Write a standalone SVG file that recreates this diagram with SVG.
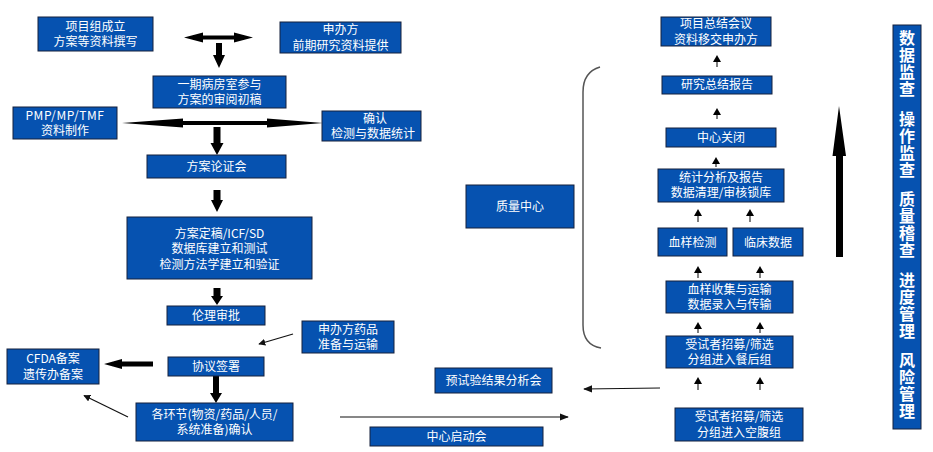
<svg xmlns="http://www.w3.org/2000/svg" width="933" height="452" viewBox="0 0 933 452">
<defs>
<style>
.b{fill:#0652B0;stroke:#14213d;stroke-width:1}
.t{font-family:"Noto Sans CJK SC","Microsoft YaHei",sans-serif;font-size:12px;fill:#ffffff;text-anchor:middle}
.v{font-family:"Noto Sans CJK SC",sans-serif;font-size:16px;font-weight:bold;fill:#ffffff;writing-mode:vertical-rl;letter-spacing:1px}
.big{fill:#000000}
.thin{stroke:#111111;stroke-width:1.2;fill:none}
.sm{stroke:#555555;stroke-width:1.5;fill:none}
.br{stroke:#555555;stroke-width:1.5;fill:none}
</style>
<marker id="ah" viewBox="0 0 10 10" refX="9" refY="5" markerWidth="7" markerHeight="7" markerUnits="userSpaceOnUse" orient="auto">
<path d="M0,0 L10,5 L0,10 z" fill="#111111"/>
</marker>
<marker id="ah2" viewBox="0 0 10 10" refX="9" refY="5" markerWidth="9" markerHeight="9" markerUnits="userSpaceOnUse" orient="auto">
<path d="M0,1 L10,5 L0,9 z" fill="#111111"/>
</marker>
</defs>
<rect width="933" height="452" fill="#ffffff"/>

<g id="connectors">
<polygon class="big" points="184,37.5 203,32.5 203,35.5 234,35.5 234,32.5 253,37.5 234,42.5 234,39.5 203,39.5 203,42.5"/>
<polygon class="big" points="216,43 222,43 222,55 225,55 219,68 213,55 216,55"/>
<polygon class="big" points="122,123 183,118.5 183,121 267,121 267,118.5 323,123 267,127.5 267,125 183,125 183,127.5"/>
<polygon class="big" points="213.5,127 220.5,127 220.5,143 223.5,143 217,155 210.5,143 213.5,143"/>
<polygon class="big" points="213.5,190 220.5,190 220.5,200 223,200 217,212 211,200 213.5,200"/>
<polygon class="big" points="213.5,288 220.5,288 220.5,296 223,296 217,305 211,296 213.5,296"/>
<polygon class="big" points="104,364 122,359 122,361.5 153,361.5 153,366.5 122,366.5 122,369"/>
<polygon class="big" points="213,376 219,376 219,393 222,393 216,403 210,393 213,393"/>
<line class="thin" x1="293" y1="334" x2="259" y2="344" marker-end="url(#ah)"/>
<line class="thin" x1="128" y1="417" x2="84" y2="395.5" marker-end="url(#ah)"/>
<line class="thin" x1="340" y1="417" x2="568" y2="417" marker-end="url(#ah2)"/>
<line class="thin" x1="660" y1="388" x2="584" y2="389" marker-end="url(#ah2)"/>
<path class="br" d="M600,67 Q583,72 583,92 L583,325 Q583,345 601,348"/>
<polygon class="big" points="839,106 846,156 843,156 843,257 836,257 836,156 832.5,156"/>
<g>
<line class="sm" x1="717" y1="67" x2="717" y2="60"/><polygon class="big" points="717,55 721,62 713,62"/>
<line class="sm" x1="717" y1="119" x2="717" y2="113"/><polygon class="big" points="717,108 721,115 713,115"/>
<line class="sm" x1="716" y1="167" x2="716" y2="162"/><polygon class="big" points="716,157 720,164 712,164"/>
<line class="sm" x1="698" y1="222" x2="698" y2="214"/><polygon class="big" points="698,209 702,216 694,216"/>
<line class="sm" x1="750" y1="222" x2="750" y2="214"/><polygon class="big" points="750,209 754,216 746,216"/>
<line class="sm" x1="698" y1="278" x2="698" y2="271"/><polygon class="big" points="698,266 702,273 694,273"/>
<line class="sm" x1="760" y1="278" x2="760" y2="271"/><polygon class="big" points="760,266 764,273 756,273"/>
<line class="sm" x1="698" y1="333" x2="698" y2="327"/><polygon class="big" points="698,322 702,329 694,329"/>
<line class="sm" x1="760" y1="333" x2="760" y2="327"/><polygon class="big" points="760,322 764,329 756,329"/>
<line class="sm" x1="698" y1="390" x2="698" y2="382"/><polygon class="big" points="698,377 702,384 694,384"/>
<line class="sm" x1="760" y1="390" x2="760" y2="382"/><polygon class="big" points="760,377 764,384 756,384"/>
</g>
</g>

<g id="n1"><rect class="b" x="38" y="17" width="115" height="34"/><text class="t" x="95.5" y="30.5">项目组成立<tspan x="95.5" dy="15.5">方案等资料撰写</tspan></text></g>
<g id="n2"><rect class="b" x="280" y="22" width="121" height="31"/><text class="t" x="340.5" y="34">申办方<tspan x="340.5" dy="15.5">前期研究资料提供</tspan></text></g>
<g id="n3"><rect class="b" x="153" y="76" width="133" height="32"/><text class="t" x="219.5" y="88.5">一期病房室参与<tspan x="219.5" dy="15.5">方案的审阅初稿</tspan></text></g>
<g id="n4"><rect class="b" x="13" y="107" width="104" height="32"/><text class="t" x="65" y="119.5"><tspan style="letter-spacing:0.6px">PMP/MP/TMF</tspan><tspan x="65" dy="15.5">资料制作</tspan></text></g>
<g id="n5"><rect class="b" x="322" y="111" width="99" height="30"/><text class="t" x="375" y="122.5">确认<tspan x="373" dy="15.5">检测与数据统计</tspan></text></g>
<g id="n6"><rect class="b" x="147" y="155" width="139" height="23"/><text class="t" x="216.5" y="171">方案论证会</text></g>
<g id="n7"><rect class="b" x="127" y="217" width="185" height="62"/><text class="t" x="219.5" y="237.5">方案定稿/ICF/SD<tspan x="219.5" dy="15.5">数据库建立和测试</tspan><tspan x="219.5" dy="15.5">检测方法学建立和验证</tspan></text></g>
<g id="n8"><rect class="b" x="167" y="306" width="98" height="19"/><text class="t" x="216" y="320">伦理审批</text></g>
<g id="n9"><rect class="b" x="302" y="321" width="92" height="32"/><text class="t" x="348" y="333.5">申办方药品<tspan x="348" dy="15.5">准备与运输</tspan></text></g>
<g id="n10"><rect class="b" x="7" y="349" width="92" height="35"/><text class="t" x="53" y="363">CFDA备案<tspan x="53" dy="15.5">遗传办备案</tspan></text></g>
<g id="n11"><rect class="b" x="168" y="357" width="96" height="19"/><text class="t" x="216" y="371">协议签署</text></g>
<g id="n12"><rect class="b" x="136" y="403" width="157" height="38"/><text class="t" x="214.5" y="418.5">各环节(物资/药品/人员/<tspan x="214.5" dy="15.5">系统准备)确认</tspan></text></g>
<g id="n13"><rect class="b" x="370" y="427" width="173" height="19"/><text class="t" x="456.5" y="440.5">中心启动会</text></g>
<g id="n14"><rect class="b" x="435" y="368" width="117" height="25"/><text class="t" x="493.5" y="385">预试验结果分析会</text></g>
<g id="n15"><rect class="b" x="466" y="185" width="108" height="43"/><text class="t" x="520" y="211">质量中心</text></g>
<g id="n16"><rect class="b" x="661" y="17" width="110" height="29"/><text class="t" x="716" y="28">项目总结会议<tspan x="716" dy="15.5">资料移交申办方</tspan></text></g>
<g id="n17"><rect class="b" x="662" y="76" width="110" height="18"/><text class="t" x="717" y="89">研究总结报告</text></g>
<g id="n18"><rect class="b" x="666" y="128" width="110" height="19"/><text class="t" x="721" y="141.5">中心关闭</text></g>
<g id="n19"><rect class="b" x="658" y="169" width="126" height="33"/><text class="t" x="721" y="181.5">统计分析及报告<tspan x="721" dy="15.5">数据清理/审核锁库</tspan></text></g>
<g id="n20"><rect class="b" x="658" y="228" width="69" height="28"/><text class="t" x="692.5" y="246.5">血样检测</text></g>
<g id="n21"><rect class="b" x="733" y="228" width="70" height="28"/><text class="t" x="768" y="246.5">临床数据</text></g>
<g id="n22"><rect class="b" x="666" y="281" width="127" height="32"/><text class="t" x="729.5" y="293.5">血样收集与运输<tspan x="729.5" dy="15.5">数据录入与传输</tspan></text></g>
<g id="n23"><rect class="b" x="666" y="336" width="127" height="32"/><text class="t" x="729.5" y="348.5">受试者招募/筛选<tspan x="729.5" dy="15.5">分组进入餐后组</tspan></text></g>
<g id="n24"><rect class="b" x="675" y="408" width="128" height="33"/><text class="t" x="739" y="421">受试者招募/筛选<tspan x="739" dy="15.5">分组进入空腹组</tspan></text></g>
<g id="n25"><rect class="b" x="893" y="25" width="28" height="404"/>
<text class="v" x="907" y="30">数据监查</text>
<text class="v" x="907" y="110.5">操作监查</text>
<text class="v" x="907" y="191">质量稽查</text>
<text class="v" x="907" y="271.5">进度管理</text>
<text class="v" x="907" y="352">风险管理</text>
</g>
</svg>
